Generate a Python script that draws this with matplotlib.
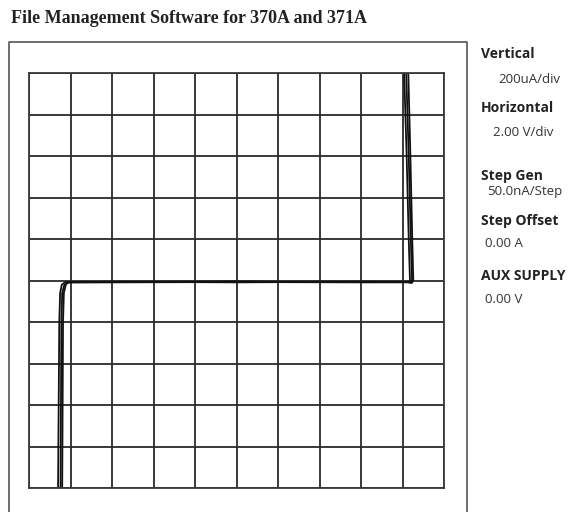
import matplotlib
matplotlib.use("Agg")
import matplotlib.pyplot as plt
from matplotlib.lines import Line2D

W, H = 576, 512

# curve tracer sweeps (volts, microamps)
sweep1_v = [-8.60, -8.57, -8.54, -8.50, -8.42, -8.25, -6.0, -2.0, 0.0, 2.0, 6.0, 8.20, 8.40, 8.46, 8.40, 8.30, 8.18]
sweep1_i = [-1000, -600, -200, -60, -20, -8, -6, -6, -4, -6, -6, -6, -10, 0, 200, 600, 1000]
sweep2_v = [-8.48, -8.46, -8.44, -8.40, -8.30, -8.12, -6.0, -2.0, 0.0, 2.0, 6.0, 8.25, 8.45, 8.52, 8.47, 8.38, 8.28]
sweep2_i = [-1000, -600, -200, -60, -22, -10, -9, -8, -9, -8, -9, -9, -12, 0, 200, 600, 1000]
sweep3_v = [-8.40, -8.38, -8.36, -8.32, -8.22, -8.05, -6.0, -2.0, 0.0, 2.0, 6.0, 8.15, 8.32, 8.36, 8.30, 8.20, 8.08]
sweep3_i = [-1000, -600, -200, -60, -18, -7, -7, -6, -7, -7, -6, -7, -8, 0, 200, 600, 1000]

labels = ["Vertical", "Horizontal", "Step Gen", "Step Offset", "AUX SUPPLY"]
values = ["200uA/div", "2.00 V/div", "50.0nA/Step", "0.00 A", "0.00 V"]
title = "File Management Software for 370A and 371A"


def fx(px):
    return px / W


def fy(py):
    return 1 - py / H


fig = plt.figure(figsize=(W / 100, H / 100), dpi=100)

# outer frame (open at the bottom, runs off the page)
frame_x = [9, 9, 467, 467]
frame_y = [H + 5, 42, 42, H + 5]
fig.add_artist(Line2D([fx(v) for v in frame_x], [fy(v) for v in frame_y],
                      color="#555555", lw=1.2))

fig.text(fx(11), fy(23), title, family="Liberation Serif", weight="bold",
         fontsize=13, color="#222222", va="baseline", ha="left")

ax = fig.add_axes([fx(29), fy(488), (444 - 29) / W, (488 - 73) / H])
ax.set_xlim(-10, 10)
ax.set_ylim(-1000, 1000)
ax.set_xticks(range(-10, 11, 2))
ax.set_yticks(range(-1000, 1001, 200))
ax.grid(True, color="#2a2a2a", lw=1.3)
ax.tick_params(length=0, labelbottom=False, labelleft=False)
for s in ax.spines.values():
    s.set_color("#3a3a3a")
    s.set_linewidth(1.3)

for v, i in [(sweep1_v, sweep1_i), (sweep2_v, sweep2_i), (sweep3_v, sweep3_i)]:
    ax.plot(v, i, color="#111111", lw=1.3, solid_joinstyle="round", clip_on=True)

label_y = [58, 112, 180, 225, 280]
value_pos = [(498, 83), (493, 136), (487, 195), (485, 247), (485, 303)]
for lab, ly in zip(labels, label_y):
    fig.text(fx(481), fy(ly), lab, family="Open Sans", weight="bold",
             fontsize=10, color="#222222", va="baseline")
for val, (vx, vy) in zip(values, value_pos):
    fig.text(fx(vx), fy(vy), val, family="Open Sans", fontsize=9.5,
             color="#333333", va="baseline")

fig.savefig("out.png", dpi=100)
